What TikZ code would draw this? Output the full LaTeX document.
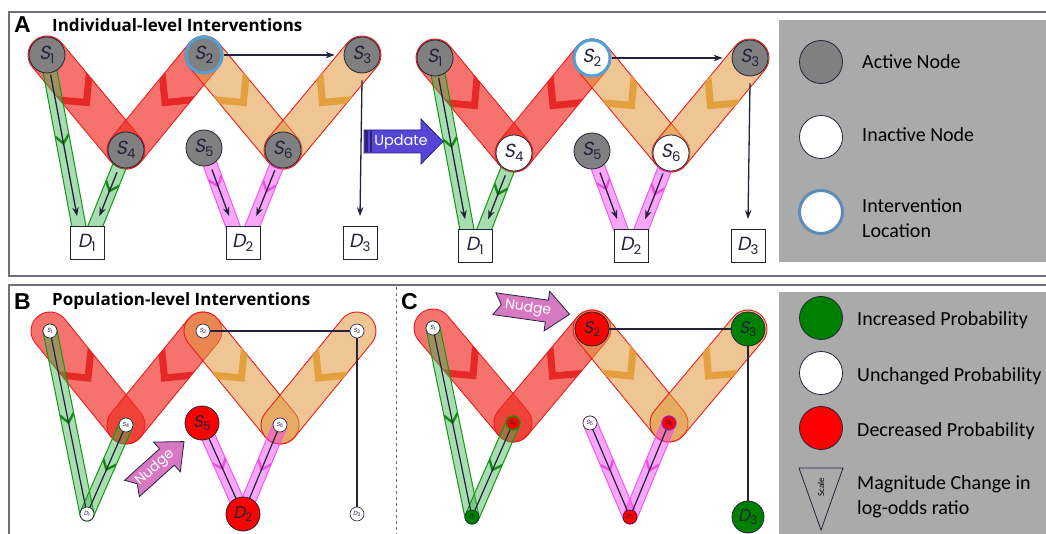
\documentclass[tikz,border=0pt]{standalone}
\usepackage{fontspec}
\setmainfont{Carlito}
\newfontfamily\titlefont{Open Sans}
\newfontfamily\letterfont{Liberation Sans}
\newfontfamily\roundfont{Poppins}
\newfontfamily\slfont[FakeSlant=0.2]{Poppins}
\usetikzlibrary{calc,arrows.meta}
\pgfdeclarelayer{back}
\pgfdeclarelayer{bg}
\pgfsetlayers{back,bg,main}

\definecolor{nodegray}{RGB}{128,128,128}
\definecolor{ink}{RGB}{35,35,60}
\definecolor{ringblue}{RGB}{85,160,210}
\definecolor{legring}{RGB}{95,140,180}
\definecolor{bandred}{RGB}{240,40,30}
\definecolor{chevred}{RGB}{230,40,40}
\definecolor{edgered}{RGB}{235,30,30}
\definecolor{bandorange}{RGB}{225,150,60}
\definecolor{chevorange}{RGB}{228,160,60}
\definecolor{bandgreen}{RGB}{60,180,80}
\definecolor{edgegreen}{RGB}{20,150,20}
\definecolor{chevgreen}{RGB}{20,140,20}
\definecolor{bandpink}{RGB}{240,60,240}
\definecolor{edgepink}{RGB}{240,90,240}
\definecolor{chevpink}{RGB}{235,80,225}
\definecolor{legendgray}{RGB}{170,170,170}
\definecolor{framegray}{RGB}{110,110,125}
\definecolor{updblue}{RGB}{85,70,215}
\definecolor{upddark}{RGB}{45,35,120}
\definecolor{nudgepink}{RGB}{215,120,195}
\definecolor{incgreen}{RGB}{0,128,0}
\definecolor{decred}{RGB}{255,0,0}
\definecolor{ringpurple}{RGB}{150,40,160}

\newcommand\lab[2]{{\slfont #1}\textsubscript{#2}}
\newcommand\bandpath[3]{let \p1=(#1), \p2=(#2), \n1={atan2(\y2-\y1,\x2-\x1)} in
  ($(\p1)+(\n1+90:#3)$) -- ($(\p2)+(\n1+90:#3)$)
  arc[start angle=\n1+90, delta angle=-180, radius=#3]
  -- ($(\p1)+(\n1-90:#3)$)
  arc[start angle=\n1-90, delta angle=-180, radius=#3] -- cycle}
\newcommand\band[4]{\path[#1] \bandpath{#2}{#3}{#4};}
\newcommand\chev[4]{%
  \begin{scope}
  \clip \bandpath{#1}{#2}{19pt};
  \draw[#3, line width=7pt, line join=miter] let \p1=(#1), \p2=(#2),
    \n1={atan2(\y2-\y1,\x2-\x1)}, \p3=($(\p1)!#4!(\p2)$) in
    ($(\p3)+(\n1+135:34pt)$) -- (\p3) -- ($(\p3)+(\n1-135:34pt)$);
  \end{scope}}
\newcommand\gchev[4]{%
  \begin{scope}
  \clip \bandpath{#1}{#2}{7pt};
  \draw[#3, line width=2.4pt] let \p1=(#1), \p2=(#2),
    \n1={atan2(\y2-\y1,\x2-\x1)}, \p3=($(\p1)!#4!(\p2)$) in
    ($(\p3)+(\n1+140:11pt)$) -- (\p3) -- ($(\p3)+(\n1-140:11pt)$);
  \end{scope}}
\newcommand\nudgearrow[4]{%
  \begin{scope}[shift={#1}, rotate=#2]
  \filldraw[fill=nudgepink, draw=ink, line width=0.8pt]
    (-#3,11) -- (#3-23,11) -- (#3-23,20) -- (#3,0) -- (#3-23,-20) -- (#3-23,-11)
    -- (-#3,-11) -- (-#3+7,0) -- cycle;
  \node[rotate=#2, text=white, font=\roundfont\fontsize{14}{14}\selectfont] (#4) at (-4,0) {Nudge};
  \end{scope}}

\tikzset{
  nd/.style={circle, draw=ink, line width=0.8pt, minimum size=36pt, inner sep=0pt,
    font=\roundfont\fontsize{19}{19}\selectfont, text=ink},
  act/.style={nd, fill=nodegray},
  inact/.style={nd, fill=white},
  iv/.style={line width=3pt, draw=ringblue},
  dbox/.style={rectangle, draw=ink, line width=0.8pt, fill=white, minimum width=34pt,
    minimum height=33pt, inner sep=0pt, font=\roundfont\fontsize{19}{19}\selectfont, text=ink},
  sm/.style={circle, draw=ink, line width=0.6pt, fill=white, minimum size=14pt, inner sep=0pt,
    font=\roundfont\fontsize{6}{6}\selectfont, text=ink},
  big/.style={circle, draw=ink, line width=0.8pt, minimum size=34pt, inner sep=0pt,
    font=\roundfont\fontsize{17}{17}\selectfont, text=ink},
  redband/.style={fill=bandred, fill opacity=0.65, draw=edgered, line width=0.9pt},
  orangeband/.style={fill=bandorange, fill opacity=0.55, draw=edgered, line width=0.9pt},
  greenband/.style={fill=bandgreen, fill opacity=0.45, draw=edgegreen, line width=1pt},
  pinkband/.style={fill=bandpink, fill opacity=0.45, draw=edgepink, line width=1pt},
  arr/.style={draw=ink, line width=1.3pt, -{Stealth[length=9pt,width=6.5pt]}},
  ln/.style={draw=ink, line width=1.2pt},
  leg/.style={circle, draw=ink, line width=0.8pt, minimum size=43pt, inner sep=0pt},
  legtext/.style={anchor=base west, inner sep=0pt, font=\fontsize{20}{25}\selectfont, text=black, align=left},
  ttl/.style={anchor=base west, inner sep=0pt, font=\titlefont\bfseries\fontsize{17}{17}\selectfont},
  letter/.style={anchor=base west, inner sep=0pt, font=\letterfont\bfseries\fontsize{23}{23}\selectfont}
}

\begin{document}
\begin{tikzpicture}[x=1pt,y=1pt]
\useasboundingbox (0,0) rectangle (1046,-534);
\begin{pgfonlayer}{back}
\fill[white] (0,0) rectangle (1046,-534);
\draw[framegray, line width=1.5pt] (9,-12) rectangle (1060,-276);
\draw[framegray, line width=1.5pt] (9,-285) rectangle (1060,-545);
\draw[framegray, dashed, line width=0.6pt] (396,-287) -- (396,-534);
\filldraw[fill=legendgray, draw=white, line width=0.8pt] (778,-19) rectangle (1060,-262);
\filldraw[fill=legendgray, draw=white, line width=0.8pt] (778,-291) rectangle (1060,-545);
\end{pgfonlayer}

% titles
\node[letter] (la) at (14,-33) {A};
\node[ttl] (ta) at (52,-32) {Individual-level Interventions};
\node[letter] (lb) at (14,-309) {B};
\node[ttl] (tb) at (52,-306) {Population-level Interventions};
\node[letter] (lc) at (401,-309) {C};

% ---------- Panel A left ----------
\node[act] (aS1) at (47,-55) {\lab{S}{1}};
\node[act,iv] (aS2) at (204,-55) {\lab{S}{2}};
\node[act] (aS3) at (362,-55) {\lab{S}{3}};
\node[act] (aS4) at (126,-150) {\lab{S}{4}};
\node[act] (aS5) at (204,-148) {\lab{S}{5}};
\node[act] (aS6) at (283,-150) {\lab{S}{6}};
\node[dbox] (aD1) at (87,-243) {\lab{D}{1}};
\node[dbox] (aD2) at (243,-243) {\lab{D}{2}};
\node[dbox] (aD3) at (360,-243) {\lab{D}{3}};
\coordinate (ag1) at (80,-232);
\coordinate (ag2) at (93,-232);
\coordinate (ap1) at (235,-232);
\coordinate (ap2) at (250,-232);

% ---------- Panel A right ----------
\begin{scope}[shift={(388,-3)}]
\node[act] (rS1) at (47,-55) {\lab{S}{1}};
\node[inact,iv] (rS2) at (204,-55) {\lab{S}{2}};
\node[act] (rS3) at (362,-55) {\lab{S}{3}};
\node[inact] (rS4) at (126,-150) {\lab{S}{4}};
\node[act] (rS5) at (204,-148) {\lab{S}{5}};
\node[inact] (rS6) at (283,-150) {\lab{S}{6}};
\node[dbox] (rD1) at (87,-243) {\lab{D}{1}};
\node[dbox] (rD2) at (243,-243) {\lab{D}{2}};
\node[dbox] (rD3) at (360,-243) {\lab{D}{3}};
\coordinate (rg1) at (80,-232);
\coordinate (rg2) at (94,-232);
\coordinate (rp1) at (235,-232);
\coordinate (rp2) at (251,-232);
\end{scope}

% ---------- Panel B ----------
\node[sm] (bS1) at (50,-331) {\lab{S}{1}};
\node[sm] (bS2) at (203,-331) {\lab{S}{2}};
\node[sm] (bS3) at (357,-331) {\lab{S}{3}};
\node[sm] (bS4) at (126,-425) {\lab{S}{4}};
\node[big, fill=decred] (bS5) at (202,-423) {\lab{S}{5}};
\node[sm] (bS6) at (280,-425) {\lab{S}{6}};
\node[sm] (bD1) at (87,-514) {\lab{D}{1}};
\node[big, fill=decred] (bD2) at (243,-514) {\lab{D}{2}};
\node[sm] (bD3) at (357,-514) {\lab{D}{3}};

% ---------- Panel C ----------
\node[sm] (cS1) at (433,-328) {\lab{S}{1}};
\node[big, fill=decred] (cS2) at (592,-329) {\lab{S}{2}};
\node[big, fill=incgreen] (cS3) at (748,-329) {\lab{S}{3}};
\node[sm, fill=decred, draw=edgegreen, line width=1.2pt] (cS4) at (513,-423) {\lab{S}{4}};
\node[sm] (cS5) at (590,-423) {\lab{S}{5}};
\node[sm, fill=decred, draw=ringpurple, line width=1.2pt] (cS6) at (669,-423) {\lab{S}{6}};
\node[sm, fill=incgreen] (cD1) at (472,-517) {\lab{D}{1}};
\node[sm, fill=decred] (cD2) at (630,-517) {\lab{D}{2}};
\node[big, fill=incgreen, minimum size=32pt] (cD3) at (748,-517) {\lab{D}{3}};

\begin{pgfonlayer}{bg}
% Panel A left bands
\band{redband}{aS1.center}{aS4.center}{19pt}
\band{redband}{aS4.center}{aS2.center}{19pt}
\band{orangeband}{aS2.center}{aS6.center}{19pt}
\band{orangeband}{aS6.center}{aS3.center}{19pt}
\chev{aS1.center}{aS4.center}{chevred}{0.5}
\chev{aS2.center}{aS4.center}{chevred}{0.5}
\chev{aS2.center}{aS6.center}{chevorange}{0.5}
\chev{aS3.center}{aS6.center}{chevorange}{0.5}
\band{greenband}{aS1.center}{ag1.center}{7pt}
\band{greenband}{aS4.center}{ag2.center}{7pt}
\band{pinkband}{aS5.center}{ap1.center}{7pt}
\band{pinkband}{aS6.center}{ap2.center}{7pt}
\gchev{aS1.center}{ag1.center}{chevgreen}{0.5}
\gchev{aS4.center}{ag2.center}{chevgreen}{0.5}
\gchev{aS5.center}{ap1.center}{chevpink}{0.45}
\gchev{aS6.center}{ap2.center}{chevpink}{0.5}
% Panel A right bands
\band{redband}{rS1.center}{rS4.center}{19pt}
\band{redband}{rS4.center}{rS2.center}{19pt}
\band{orangeband}{rS2.center}{rS6.center}{19pt}
\band{orangeband}{rS6.center}{rS3.center}{19pt}
\chev{rS1.center}{rS4.center}{chevred}{0.5}
\chev{rS2.center}{rS4.center}{chevred}{0.5}
\chev{rS2.center}{rS6.center}{chevorange}{0.5}
\chev{rS3.center}{rS6.center}{chevorange}{0.5}
\band{greenband}{rS1.center}{rg1.center}{7pt}
\band{greenband}{rS4.center}{rg2.center}{7pt}
\band{pinkband}{rS5.center}{rp1.center}{7pt}
\band{pinkband}{rS6.center}{rp2.center}{7pt}
\gchev{rS1.center}{rg1.center}{chevgreen}{0.5}
\gchev{rS4.center}{rg2.center}{chevgreen}{0.5}
\gchev{rS5.center}{rp1.center}{chevpink}{0.45}
\gchev{rS6.center}{rp2.center}{chevpink}{0.5}
% Panel B bands
\band{redband}{bS1.center}{bS4.center}{19pt}
\band{redband}{bS4.center}{bS2.center}{19pt}
\band{orangeband}{bS2.center}{bS6.center}{19pt}
\band{orangeband}{bS6.center}{bS3.center}{19pt}
\chev{bS1.center}{bS4.center}{chevred}{0.5}
\chev{bS2.center}{bS4.center}{chevred}{0.5}
\chev{bS2.center}{bS6.center}{chevorange}{0.5}
\chev{bS3.center}{bS6.center}{chevorange}{0.5}
\band{greenband}{bS1.center}{bD1.center}{7pt}
\band{greenband}{bS4.center}{bD1.center}{7pt}
\band{pinkband}{bS5.center}{bD2.center}{7pt}
\band{pinkband}{bS6.center}{bD2.center}{7pt}
\gchev{bS1.center}{bD1.center}{chevgreen}{0.5}
\gchev{bS4.center}{bD1.center}{chevgreen}{0.5}
\gchev{bS5.center}{bD2.center}{chevpink}{0.5}
\gchev{bS6.center}{bD2.center}{chevpink}{0.5}
\draw[ln] (bS1.center) -- (bD1.center);
\draw[ln] (bS4.center) -- (bD1.center);
\draw[ln] (bS5.center) -- (bD2.center);
\draw[ln] (bS6.center) -- (bD2.center);
\draw[ln] (bS2.center) -- (bS3.center);
\draw[ln] (bS3.center) -- (bD3.center);
% Panel C bands
\band{redband}{cS1.center}{cS4.center}{19pt}
\band{redband}{cS4.center}{cS2.center}{19pt}
\band{orangeband}{cS2.center}{cS6.center}{19pt}
\band{orangeband}{cS6.center}{cS3.center}{19pt}
\chev{cS1.center}{cS4.center}{chevred}{0.5}
\chev{cS2.center}{cS4.center}{chevred}{0.5}
\chev{cS2.center}{cS6.center}{chevorange}{0.5}
\chev{cS3.center}{cS6.center}{chevorange}{0.5}
\band{greenband}{cS1.center}{cD1.center}{7pt}
\band{greenband}{cS4.center}{cD1.center}{7pt}
\band{pinkband}{cS5.center}{cD2.center}{7pt}
\band{pinkband}{cS6.center}{cD2.center}{7pt}
\gchev{cS1.center}{cD1.center}{chevgreen}{0.5}
\gchev{cS4.center}{cD1.center}{chevgreen}{0.5}
\gchev{cS5.center}{cD2.center}{chevpink}{0.5}
\gchev{cS6.center}{cD2.center}{chevpink}{0.5}
\draw[ln] (cS1.center) -- (cD1.center);
\draw[ln] (cS4.center) -- (cD1.center);
\draw[ln] (cS5.center) -- (cD2.center);
\draw[ln] (cS6.center) -- (cD2.center);
\draw[ln] (cS2.center) -- (cS3.center);
\draw[ln] (cS3.center) -- (cD3.center);
\end{pgfonlayer}

% arrows panel A
\draw[arr] (aS2.east) -- ([xshift=-9pt]aS3.west);
\draw[arr] ([yshift=-7pt]aS3.south) -- ([yshift=10pt]aD3.north);
\draw[arr, shorten <=20pt, shorten >=16pt] (aS1.center) -- (ag1);
\draw[arr, shorten <=24pt, shorten >=17pt] (aS4.center) -- (ag2);
\draw[arr, shorten <=23pt, shorten >=17pt] (aS5.center) -- (ap1);
\draw[arr, shorten <=22pt, shorten >=17pt] (aS6.center) -- (ap2);
\draw[arr] (rS2.east) -- ([xshift=-9pt]rS3.west);
\draw[arr] ([yshift=-7pt]rS3.south) -- ([yshift=10pt]rD3.north);
\draw[arr, shorten <=20pt, shorten >=16pt] (rS1.center) -- (rg1);
\draw[arr, shorten <=24pt, shorten >=17pt] (rS4.center) -- (rg2);
\draw[arr, shorten <=23pt, shorten >=17pt] (rS5.center) -- (rp1);
\draw[arr, shorten <=22pt, shorten >=17pt] (rS6.center) -- (rp2);

% Update arrow
\filldraw[fill=updblue, draw=upddark, line width=0.8pt]
  (364,-130) -- (421,-130) -- (421,-119) -- (443,-141.5) -- (421,-164) -- (421,-153) -- (364,-153) -- cycle;
\fill[upddark] (364.5,-130.5) rectangle (367.5,-152.5);
\fill[upddark] (369.5,-130.5) rectangle (371.5,-152.5);
\node[text=white, font=\roundfont\fontsize{14.5}{14.5}\selectfont, inner sep=0pt] (upd) at (401,-142) {Update};

% Nudge arrows
\nudgearrow{(158,-465)}{42}{35}{nudgeb}
\nudgearrow{(532,-309)}{-8}{38}{nudgec}

% Legend A
\node[leg, fill=nodegray] (la1) at (821,-62) {};
\node[leg, fill=white] (la2) at (821,-137) {};
\node[leg, fill=white, draw=legring, line width=3pt] (la3) at (821,-212) {};
\node[legtext] (lta1) at (862,-69) {Active Node};
\node[legtext] (lta2) at (862,-142) {Inactive Node};
\node[legtext] (lta3) at (862,-238) {Intervention\\Location};

% Legend B/C
\node[leg, fill=incgreen] (lb1) at (821,-318) {};
\node[leg, fill=white] (lb2) at (821,-373) {};
\node[leg, fill=decred] (lb3) at (821,-428) {};
\draw[ink, line width=0.8pt] (799,-468) -- (843,-468) -- (821,-530) -- cycle;
\node[rotate=90, font=\fontsize{9}{9}\selectfont, inner sep=0pt] (scl) at (821,-487) {Scale};
\node[legtext] (ltb1) at (857,-326) {Increased Probability};
\node[legtext] (ltb2) at (857,-381) {Unchanged Probability};
\node[legtext] (ltb3) at (857,-436) {Decreased Probability};
\node[legtext] (ltb4) at (857,-514) {Magnitude Change in\\log-odds ratio};
\end{tikzpicture}
\end{document}
